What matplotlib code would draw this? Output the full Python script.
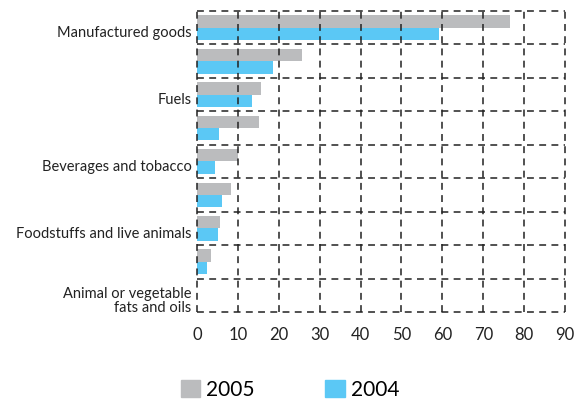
import matplotlib
matplotlib.use("Agg")
import matplotlib.pyplot as plt
import matplotlib.transforms as mtransforms
from matplotlib.patches import Patch
import numpy as np

plt.rcParams['font.family'] = ['Lato', 'DejaVu Sans']

# export categories, top to bottom (only every other row is labelled)
categories = ["Manufactured goods", "", "Fuels", "", "Beverages and tobacco", "",
              "Foodstuffs and live animals", "", "Animal or vegetable\nfats and oils"]
share_2005 = [76.5, 25.7, 15.6, 15.1, 10.0, 8.3, 5.6, 3.4, 0.0]
share_2004 = [59.2, 18.5, 13.4, 5.3, 4.4, 6.0, 5.1, 2.4, 0.0]
x_ticks = [0, 10, 20, 30, 40, 50, 60, 70, 80, 90]

grey = "#bbbcbe"
blue = "#5bc8f5"
ink = "#222222"

fig = plt.figure(figsize=(5.8, 4.04), dpi=100)
ax = fig.add_axes([0.3397, 0.2277, 0.6345, 0.7451])

y = np.arange(len(categories))
h = 0.37
ax.barh(y - 0.185, share_2005, height=h, color=grey, zorder=1)
ax.barh(y + 0.185, share_2004, height=h, color=blue, zorder=1)

ax.set_xlim(0, 90)
ax.set_ylim(len(categories) - 0.5, -0.5)

ax.set_xticks(x_ticks)
ax.set_xticklabels([str(t) for t in x_ticks], fontsize=12, color=ink)
ax.set_yticks(y)
ax.set_yticklabels(categories, fontsize=10.5, color=ink, linespacing=1.0)
ax.set_yticks(np.arange(-0.5, len(categories), 1.0), minor=True)
ax.tick_params(axis='both', which='both', length=0)
ax.tick_params(axis='x', pad=11)
ax.tick_params(axis='y', pad=4)

# push the category labels down a touch
shift = mtransforms.ScaledTranslation(0, -4 / 100, fig.dpi_scale_trans)
for lbl in ax.get_yticklabels():
    lbl.set_transform(lbl.get_transform() + shift)

for s in ax.spines.values():
    s.set_visible(False)

grid_kw = dict(color=ink, linewidth=1.1, linestyle=(0, (4.5, 3.5)), zorder=2)
ax.xaxis.grid(True, which='major', **grid_kw)
ax.yaxis.grid(True, which='minor', **grid_kw)
ax.yaxis.grid(False, which='major')
ax.set_axisbelow(False)
for t in ax.xaxis.get_major_ticks() + ax.yaxis.get_minor_ticks():
    t.gridline.set_clip_on(False)

handles = [Patch(color=grey, label="2005"), Patch(color=blue, label="2004")]
fig.legend(handles=handles, loc='center', bbox_to_anchor=(0.5, 0.035), ncol=2,
           frameon=False, handlelength=0.92, handleheight=0.92,
           handletextpad=0.3, columnspacing=3.4, borderpad=0,
           prop={'size': 15})

fig.savefig("out.png", dpi=100)
